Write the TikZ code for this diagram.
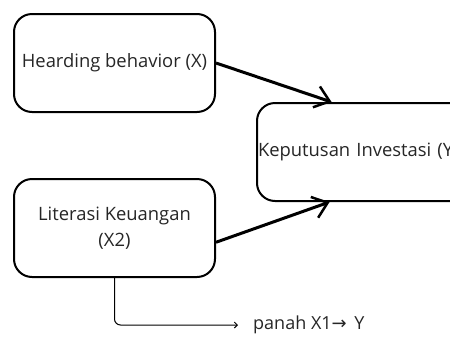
\documentclass[tikz,border=0pt]{standalone}
\usepackage{fontspec}
\setmainfont{Open Sans}
\newfontfamily\arrowfont{DejaVu Sans}
\usetikzlibrary{positioning, arrows.meta, calc}

\tikzset{
  kotak/.style={draw, line width=2pt, rounded corners=18pt,
    minimum width=201pt, minimum height=98pt, align=center,
    font=\fontsize{18.4}{26}\selectfont, text=black!85},
  panah/.style={line width=3pt,
    -{Straight Barb[length=14pt,width=22pt,line width=2.5pt]}},
  garis/.style={line width=1pt, rounded corners=6pt,
    -{Straight Barb[length=3pt,width=6pt]}},
}

\begin{document}
\begin{tikzpicture}[x=1pt,y=-1pt]

    \useasboundingbox (0,0) rectangle (450,338);
    \clip (0,0) rectangle (450,338);

    \node[kotak] (hear) at (114.5,63) {Hearding behavior (X)};
    \node[kotak] (lit) at (114.5,228) {Literasi Keuangan\\(X2)};
    \node[kotak, minimum width=223pt, text width=221pt, align=left,
      inner xsep=1pt] (kep) at (368.5,152) {Keputusan Investasi (Y)};

    \node[anchor=west, font=\fontsize{18}{20}\selectfont, text=black!85,
      inner sep=1pt] (lbl) at (252,325) {panah X1{\arrowfont→}\, Y};

    \draw[panah] (hear.east) -- ($(kep.north west)!0.336!(kep.north east)$);
    \draw[panah] (lit.-8) -- ($(kep.south west)!0.327!(kep.south east)$);

    \draw[garis, shorten >=14pt] (lit.south) |- (lbl.west);

\end{tikzpicture}
\end{document}
